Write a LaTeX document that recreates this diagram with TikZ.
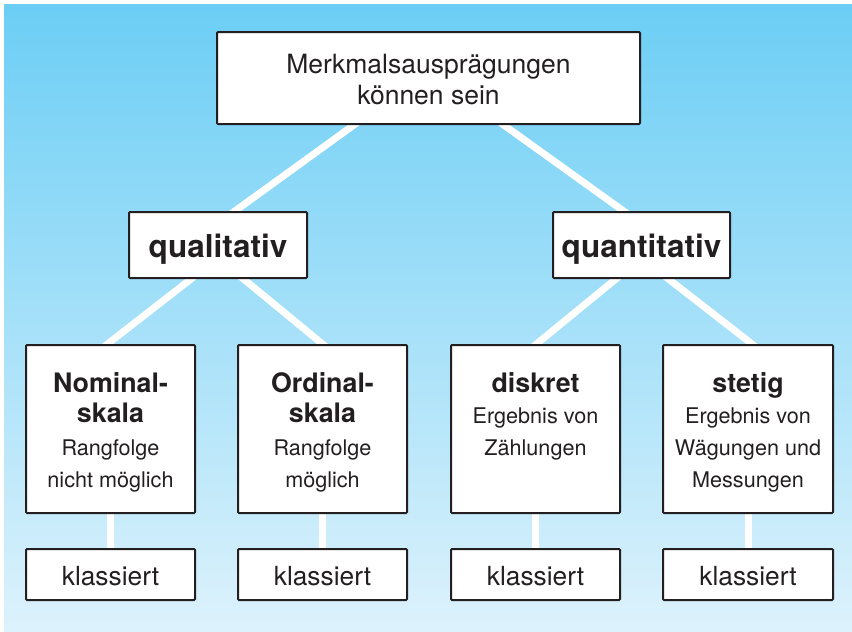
\documentclass[tikz,border=0pt]{standalone}
\usepackage{fontspec}
\setmainfont{TeX Gyre Heros}
\usetikzlibrary{calc}
\definecolor{ink}{HTML}{231F20}
\definecolor{skytop}{HTML}{6CCEF5}
\definecolor{skybot}{HTML}{DDF2FC}
\pgfdeclarelayer{bg}
\pgfdeclarelayer{lines}
\pgfsetlayers{bg,lines,main}
\begin{document}
\begin{tikzpicture}[x=1pt,y=-1pt,
  box/.style={draw=ink, line width=2pt, fill=white, rounded corners=1pt, inner sep=0pt},
  conn/.style={draw=white, line width=7pt, shorten >=-25pt},
  vconn/.style={draw=white, line width=7pt},
  txt/.style={anchor=base, text=ink, inner sep=0pt},
  topfont/.style={font=\fontsize{26.5}{30}\selectfont},
  levfont/.style={font=\fontsize{31.5}{36}\selectfont\bfseries},
  headfont/.style={font=\fontsize{26.8}{30}\selectfont\bfseries},
  descfont/.style={font=\fontsize{21.6}{26}\selectfont},
  klfont/.style={font=\fontsize{26.3}{30}\selectfont}
]
\useasboundingbox (0,0) rectangle (852,632);
\begin{pgfonlayer}{bg}
  \fill[white] (0,0) rectangle (852,632);
  \shade[top color=skytop, bottom color=skybot] (4,4) rectangle (852,632);
\end{pgfonlayer}

% boxes
\node[box, minimum width=423pt, minimum height=92pt] (top) at (428.5,78) {};
\node[box, minimum width=178pt, minimum height=66pt] (qual) at (218,245) {};
\node[box, minimum width=177pt, minimum height=66pt] (quant) at (641.5,245) {};
\node[box, minimum width=169pt, minimum height=168pt] (nom) at (110.5,429) {};
\node[box, minimum width=169pt, minimum height=168pt] (ord) at (322.5,429) {};
\node[box, minimum width=169pt, minimum height=168pt] (disk) at (535.5,429) {};
\node[box, minimum width=170pt, minimum height=168pt] (stet) at (748,429) {};
\node[box, minimum width=169pt, minimum height=51pt] (k1) at (110.5,574.5) {};
\node[box, minimum width=169pt, minimum height=51pt] (k2) at (322.5,574.5) {};
\node[box, minimum width=169pt, minimum height=51pt] (k3) at (535.5,574.5) {};
\node[box, minimum width=170pt, minimum height=51pt] (k4) at (748,574.5) {};

% connectors
\begin{pgfonlayer}{lines}
  \draw[conn] ([yshift=7pt]top.center) -- ([xshift=17pt]qual.north);
  \draw[conn] ([yshift=7pt]top.center) -- ([xshift=-18pt]quant.north);
  \draw[conn] ([yshift=-13pt]qual.center) -- ([xshift=-3pt]nom.north);
  \draw[conn] ([yshift=-13pt]qual.center) -- (ord.north);
  \draw[conn] ([yshift=-13pt]quant.center) -- ([xshift=1pt]disk.north);
  \draw[conn] ([yshift=-13pt]quant.center) -- ([xshift=4pt]stet.north);
  \draw[vconn] (nom.south) -- (k1.north);
  \draw[vconn] (ord.south) -- (k2.north);
  \draw[vconn] (disk.south) -- (k3.north);
  \draw[vconn] (stet.south) -- (k4.north);
\end{pgfonlayer}

% texts
\node[txt, topfont] (t1) at (428.5,73) {Merkmalsausprägungen};
\node[txt, topfont] (t2) at (428.5,104) {können sein};
\node[txt, levfont] (ql) at (218,257) {qualitativ};
\node[txt, levfont] (qn) at (641.5,257) {quantitativ};

\node[txt, headfont] (n1) at (110.5,392) {Nominal-};
\node[txt, headfont] (n2) at (110.5,422) {skala};
\node[txt, descfont] (n3) at (110.5,455) {Rangfolge};
\node[txt, descfont] (n4) at (110.5,487) {nicht möglich};

\node[txt, headfont] (o1) at (322.5,392) {Ordinal-};
\node[txt, headfont] (o2) at (322.5,422) {skala};
\node[txt, descfont] (o3) at (322.5,455) {Rangfolge};
\node[txt, descfont] (o4) at (322.5,487) {möglich};

\node[txt, headfont] (d1) at (535.5,392) {diskret};
\node[txt, descfont] (d2) at (535.5,423) {Ergebnis von};
\node[txt, descfont] (d3) at (535.5,455) {Zählungen};

\node[txt, headfont] (s1) at (748,392) {stetig};
\node[txt, descfont] (s2) at (748,423) {Ergebnis von};
\node[txt, descfont] (s3) at (748,455) {Wägungen und};
\node[txt, descfont] (s4) at (748,487) {Messungen};

\node[txt, klfont] (kt1) at (110.5,585) {klassiert};
\node[txt, klfont] (kt2) at (322.5,585) {klassiert};
\node[txt, klfont] (kt3) at (535.5,585) {klassiert};
\node[txt, klfont] (kt4) at (748,585) {klassiert};
\end{tikzpicture}
\end{document}
